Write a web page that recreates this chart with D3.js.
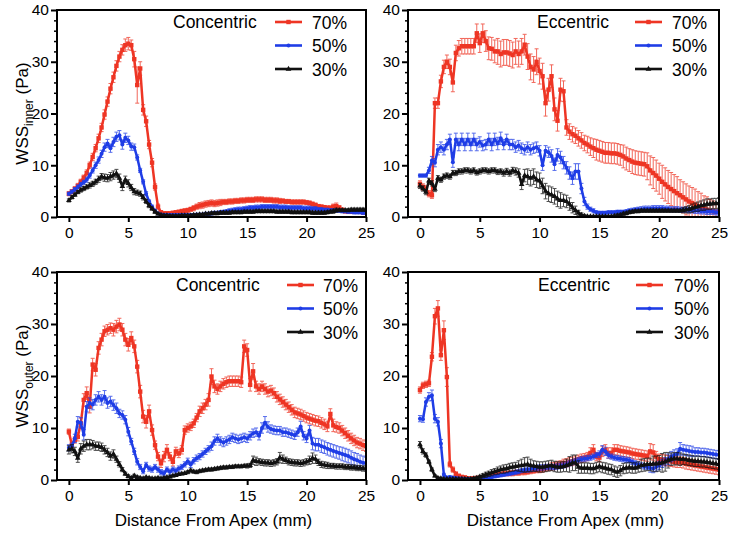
<!DOCTYPE html>
<html><head><meta charset="utf-8">
<script src="https://cdn.jsdelivr.net/npm/d3@7/dist/d3.min.js"></script>
<style>
html,body{margin:0;padding:0;background:#fff;}
svg{display:block;font-family:"Liberation Sans",Arial,Helvetica,sans-serif;}
</style></head>
<body>
<svg id="chart" width="734" height="537"></svg>
<script>
// ---------------- DATA ----------------
// sampling grid: distance from apex (mm), 0.25 mm steps
const distance = d3.range(101).map(i => i * 0.25);
const seriesNames = ["70%", "50%", "30%"];
const xTicks = [0, 5, 10, 15, 20, 25];
const yTicks = [0, 10, 20, 30, 40];
const panelTitles = ["Concentric", "Eccentric", "Concentric", "Eccentric"];
const yLabelSubs = ["inner", "outer"];
const xLabel = "Distance From Apex (mm)";

// WSS inner, concentric
const ci70 = [4.5,4.9,5.4,6.0, 6.8,7.6,8.5,10.0, 11.6,13.3,15.2,17.3, 19.8,22.3,24.8,27.0, 29.2,31.0,32.3,33.2,
  33.5,33.2,30.5,25.5, 28.7,20.7,18.5,14.0, 10.5,5.8,2.0,0.9, 0.7,0.7,0.7,0.8, 0.9,1.0,1.1,1.2,
  1.3,1.5,1.7,2.0, 2.2,2.3,2.5,2.6, 2.7,2.6,2.7,2.8, 2.9,2.9,3.0,3.0, 3.1,3.1,3.2,3.2,
  3.3,3.3,3.3,3.4, 3.4,3.4,3.3,3.3, 3.3,3.2,3.2,3.1, 3.1,3.0,3.0,2.9, 2.9,2.9,2.9,2.9,
  2.8,2.7,2.5,2.3, 2.1,2.0,1.9,1.8, 1.8,2.0,2.1,1.8, 1.4,1.1,1.0,1.0, 1.0,1.0,1.0,0.9, 0.9];
const ci70e = [0.4,0.4,0.5,0.5, 0.5,0.5,0.6,0.6, 0.7,0.7,0.8,0.8, 0.9,0.9,1.0,1.0, 1.0,1.0,1.0,1.2,
  1.2,1.0,1.5,3.5, 1.3,1.0,1.0,0.8, 0.8,0.6,0.5,0.3, 0.3,0.3,0.3,0.3, 0.3,0.3,0.4,0.4,
  0.4,0.4,0.5,0.5, 0.6,0.6,0.6,0.6, 0.6,0.6,0.6,0.6, 0.5,0.5,0.5,0.5, 0.5,0.5,0.5,0.5,
  0.5,0.5,0.5,0.5, 0.5,0.5,0.5,0.5, 0.5,0.5,0.5,0.5, 0.4,0.4,0.4,0.4, 0.4,0.4,0.4,0.4,
  0.4,0.4,0.4,0.4, 0.3,0.3,0.3,0.3, 0.3,0.5,0.6,0.4, 0.3,0.3,0.3,0.3, 0.3,0.3,0.3,0.3, 0.3];
const ci50 = [4.5,4.9,5.3,5.8, 6.3,6.7,7.2,8.0, 9.0,10.0,11.0,12.2, 13.5,14.2,13.3,14.5, 15.5,15.8,14.0,15.3,
  14.8,13.6,13.5,11.5, 9.0,6.8,4.5,3.0, 2.0,1.2,0.7,0.5, 0.4,0.4,0.4,0.4, 0.4,0.4,0.4,0.4,
  0.4,0.4,0.4,0.5, 0.5,0.5,0.6,0.6, 0.7,0.8,0.8,0.9, 1.0,1.1,1.2,1.3, 1.4,1.5,1.5,1.6,
  1.7,1.8,1.8,1.9, 1.9,2.0,2.0,2.0, 2.0,2.0,2.0,1.9, 1.9,1.9,1.8,1.8, 1.8,1.8,1.8,1.7,
  1.7,1.7,1.6,1.6, 1.5,1.5,1.4,1.4, 1.3,1.3,1.2,1.2, 1.1,1.1,1.0,1.0, 0.9,0.9,0.9,0.8, 0.8];
const ci50e = [0.3,0.3,0.4,0.4, 0.4,0.4,0.5,0.5, 0.5,0.6,0.6,0.7, 0.8,0.8,0.8,0.9, 0.9,0.9,0.9,0.9,
  0.8,0.7,0.6,0.5, 0.4,0.4,0.4,0.3, 0.3,0.3,0.2,0.2, 0.2,0.2,0.2,0.2, 0.2,0.2,0.2,0.2,
  0.2,0.2,0.2,0.2, 0.2,0.2,0.3,0.3, 0.3,0.3,0.3,0.3, 0.3,0.3,0.4,0.4, 0.4,0.4,0.4,0.4,
  0.4,0.4,0.4,0.4, 0.4,0.4,0.4,0.4, 0.4,0.4,0.4,0.4, 0.4,0.4,0.4,0.4, 0.4,0.4,0.4,0.4,
  0.4,0.4,0.4,0.4, 0.3,0.3,0.3,0.3, 0.3,0.3,0.3,0.3, 0.3,0.3,0.3,0.3, 0.3,0.3,0.3,0.3, 0.3];
const ci30 = [3.2,3.8,4.3,4.8, 5.2,5.5,5.8,6.1, 6.4,6.8,7.3,7.8, 7.6,7.5,7.8,8.1, 8.4,7.5,5.9,7.2,
  6.5,5.7,4.9,4.7, 4.5,3.8,3.0,2.2, 1.6,1.0,0.6,0.4, 0.3,0.3,0.2,0.2, 0.2,0.2,0.3,0.3,
  0.3,0.3,0.4,0.4, 0.5,0.5,0.6,0.6, 0.7,0.7,0.7,0.8, 0.8,0.8,0.8,0.9, 0.9,0.9,0.9,1.0,
  1.0,1.0,1.0,1.1, 1.1,1.1,1.1,1.1, 1.1,1.1,1.0,1.0, 1.0,1.0,1.0,0.9, 0.9,0.9,0.9,0.9,
  0.9,0.9,0.8,0.8, 0.8,0.8,0.8,0.9, 1.0,1.1,1.3,1.3, 1.3,1.3,1.3,1.4, 1.4,1.4,1.4,1.4, 1.4];
const ci30e = [0.3,0.3,0.3,0.3, 0.4,0.4,0.4,0.5, 0.5,0.5,0.6,0.6, 0.7,0.7,0.8,0.8, 0.8,0.8,0.8,0.7,
  0.7,0.6,0.6,0.5, 0.5,0.5,0.4,0.4, 0.3,0.3,0.2,0.2, 0.2,0.2,0.2,0.2, 0.2,0.2,0.2,0.2,
  0.2,0.2,0.2,0.2, 0.2,0.2,0.2,0.2, 0.3,0.3,0.3,0.3, 0.3,0.3,0.3,0.3, 0.3,0.3,0.3,0.3,
  0.3,0.3,0.3,0.3, 0.3,0.3,0.3,0.3, 0.3,0.3,0.3,0.3, 0.3,0.3,0.3,0.3, 0.3,0.3,0.3,0.3,
  0.3,0.3,0.3,0.3, 0.3,0.3,0.3,0.3, 0.3,0.4,0.4,0.3, 0.3,0.3,0.3,0.3, 0.3,0.3,0.3,0.3, 0.3];

// WSS inner, eccentric
const ei70 = [6.4,5.8,5.5,4.5, 4.2,22.0,22.0,26.2, 29.0,30.0,29.0,26.0, 31.7,32.6,33.0,33.0, 33.0,33.0,33.0,35.5,
  33.6,35.5,34.0,32.6, 32.5,32.0,32.0,31.5, 31.8,31.8,31.6,31.3, 32.0,31.5,32.0,33.3, 31.0,29.0,28.5,30.0,
  28.2,27.2,22.0,24.6, 27.2,20.8,18.6,24.6, 24.3,17.3,16.5,16.0, 15.7,15.2,14.8,14.3, 14.0,13.6,13.3,13.0,
  12.8,12.6,12.4,12.4, 12.3,12.3,12.2,12.0, 11.7,11.3,11.0,10.7, 10.5,10.4,10.3,10.2, 9.8,9.0,8.5,8.0,
  7.4,6.8,6.3,5.8, 5.4,5.0,4.6,4.2, 3.8,3.4,3.0,2.7, 2.4,2.1,1.8,1.6, 1.4,1.2,1.1,1.0, 1.0];
const ei70e = [0.6,0.6,0.6,0.6, 0.6,1.0,1.0,1.2, 1.3,1.3,1.5,1.8, 1.5,1.5,1.5,1.5, 1.5,1.5,1.5,1.8,
  1.8,1.8,2.0,2.2, 2.2,2.2,2.5,2.5, 2.5,2.5,2.5,2.5, 2.5,2.5,2.5,2.0, 2.5,2.5,2.5,2.5,
  2.5,2.5,2.5,2.2, 2.2,2.2,2.0,2.2, 2.0,1.5,1.5,1.5, 1.5,1.5,1.5,1.5, 1.6,1.7,1.8,2.0,
  2.0,2.0,2.0,2.0, 2.0,2.0,2.0,2.0, 2.2,2.2,2.2,2.3, 2.3,2.3,2.3,2.3, 2.6,2.8,3.0,3.0,
  3.0,3.2,3.2,3.2, 3.2,3.2,3.2,3.0, 3.0,3.0,3.0,3.0, 3.0,2.8,2.8,2.5, 2.5,2.2,2.0,1.8, 1.5];
const ei50 = [8.0,8.0,8.0,9.0, 10.9,10.5,13.0,13.5, 13.0,14.0,15.0,10.6, 15.0,14.0,15.0,14.0, 15.0,14.0,15.0,14.0,
  14.5,13.8,14.0,15.0, 14.0,15.0,14.2,15.2, 14.0,15.0,14.0,14.0, 13.5,13.8,13.3,13.0, 13.5,13.0,13.3,13.5,
  12.8,10.0,12.8,12.5, 11.8,10.2,12.0,11.5, 10.5,9.5,8.5,7.5, 8.8,8.8,5.5,3.0, 2.0,1.5,1.2,0.9,
  0.8,0.8,0.8,0.9, 0.9,0.9,1.0,1.0, 1.0,1.1,1.2,1.3, 1.4,1.5,1.5,1.6, 1.6,1.6,1.7,1.7,
  1.7,1.7,1.6,1.6, 1.5,1.5,1.5,1.4, 1.4,1.4,1.3,1.3, 1.2,1.2,1.1,1.1, 1.0,1.0,1.0,0.9, 0.9];
const ei50e = [0.3,0.3,0.3,0.6, 0.8,0.8,1.0,1.0, 1.0,1.0,1.0,1.0, 1.2,1.2,1.2,1.2, 1.2,1.2,1.2,1.2,
  1.0,1.0,1.0,1.2, 1.2,1.2,1.2,1.2, 1.0,1.0,1.0,1.0, 1.0,1.0,1.0,1.0, 1.0,1.0,1.0,1.0,
  1.0,1.0,1.0,1.0, 1.2,1.2,1.2,1.2, 1.2,1.2,1.2,1.2, 1.5,1.5,1.0,0.8, 0.5,0.4,0.4,0.3,
  0.3,0.3,0.3,0.3, 0.3,0.3,0.3,0.3, 0.3,0.3,0.4,0.4, 0.4,0.4,0.5,0.5, 0.5,0.5,0.5,0.5,
  0.5,0.5,0.5,0.5, 0.5,0.5,0.5,0.5, 0.5,0.5,0.5,0.5, 0.5,0.5,0.5,0.5, 0.5,0.5,0.5,0.5, 0.5];
const ei30 = [6.0,5.5,4.8,7.0, 6.5,5.4,7.5,7.2, 7.8,8.0,7.8,8.5, 8.5,8.8,8.8,9.0, 9.0,8.8,9.0,8.6,
  8.8,9.0,9.0,8.8, 9.0,9.0,8.7,8.8, 8.5,8.8,8.5,9.0, 8.8,8.5,6.3,8.0, 7.8,7.5,7.8,7.2,
  7.0,6.0,5.0,4.5, 4.3,4.0,3.5,3.2, 3.2,3.0,2.5,1.8, 1.3,0.8,0.4,0.2, 0.1,0.1,0.1,0.1,
  0.1,0.1,0.1,0.1, 0.1,0.2,0.3,0.4, 0.6,0.7,0.9,1.0, 1.1,1.1,1.2,1.2, 1.2,1.2,1.2,1.2,
  1.2,1.2,1.2,1.2, 1.2,1.2,1.2,1.2, 1.3,1.4,1.5,1.7, 1.9,2.0,2.2,2.3, 2.5,2.5,2.6,2.6, 2.7];
const ei30e = [0.5,0.5,0.5,0.5, 0.5,0.5,0.5,0.5, 0.5,0.5,0.5,0.5, 0.5,0.5,0.5,0.5, 0.5,0.5,0.5,0.5,
  0.5,0.5,0.5,0.5, 0.5,0.5,0.5,0.5, 0.6,0.6,0.6,0.6, 0.7,0.8,1.0,1.2, 1.5,1.5,1.5,1.5,
  1.5,1.5,1.5,1.5, 1.5,1.5,1.5,1.5, 1.2,1.2,1.2,1.0, 0.8,0.5,0.4,0.3, 0.2,0.2,0.2,0.2,
  0.2,0.2,0.2,0.2, 0.2,0.2,0.3,0.3, 0.3,0.3,0.3,0.3, 0.3,0.3,0.3,0.3, 0.3,0.3,0.3,0.3,
  0.3,0.3,0.3,0.3, 0.3,0.3,0.3,0.3, 0.5,0.6,0.7,0.8, 0.8,0.9,0.9,1.0, 1.0,1.0,1.0,1.0, 1.0];

// WSS outer, concentric
const co70 = [9.3,6.7,7.7,8.3, 10.9,15.4,16.7,14.1, 22.2,21.2,25.4,27.0, 28.6,28.9,29.2,28.9, 29.5,29.9,28.9,27.0,
  26.0,27.3,25.7,21.8, 17.0,12.2,11.2,13.2, 9.6,6.7,4.5,3.2, 4.5,5.8,4.5,3.5, 5.5,5.1,5.8,9.6,
  10.0,10.3,10.9,12.0, 13.2,13.8,14.5,15.4, 19.9,18.0,17.5,18.0, 18.5,18.8,19.0,19.0, 19.0,19.0,18.8,25.7,
  25.0,18.3,20.9,18.0, 17.5,18.0,17.5,17.0, 17.2,16.7,16.0,15.5, 15.0,14.5,14.0,13.5, 13.0,12.8,12.6,12.3,
  12.0,11.8,11.6,11.4, 11.3,11.0,10.7,10.3, 12.7,10.5,10.2,10.0, 9.5,9.0,8.5,8.0, 7.6,7.2,7.0,6.7, 6.5];
const co70e = [0.5,0.5,0.6,0.8, 1.0,1.2,1.2,1.2, 1.2,1.2,1.2,1.2, 1.0,1.0,1.0,1.2, 1.2,1.2,1.2,1.2,
  1.2,1.2,1.2,1.2, 1.2,1.2,1.2,1.2, 1.0,0.8,0.8,0.8, 1.0,1.0,0.8,0.8, 0.8,0.8,0.8,0.8,
  0.8,0.8,0.8,0.8, 1.0,1.0,1.0,1.2, 1.5,1.2,1.0,1.0, 1.0,1.0,1.0,1.0, 1.0,1.0,1.0,1.2,
  1.2,1.2,1.5,1.0, 1.0,1.0,1.0,1.0, 1.0,1.0,1.0,1.0, 1.0,1.0,1.0,1.0, 1.0,1.0,1.0,1.0,
  1.0,1.0,1.0,1.0, 1.0,1.0,1.0,1.0, 1.0,1.2,1.0,1.0, 1.0,1.0,1.0,1.0, 1.0,1.0,1.0,1.0, 1.0];
const co50 = [6.2,6.5,8.0,11.2, 11.0,8.7,14.1,14.8, 14.5,15.4,16.0,15.4, 16.0,14.8,15.1,14.4, 13.8,12.8,12.5,11.6,
  9.3,7.4,5.5,3.5, 2.5,1.7,2.9,2.2, 2.0,2.5,2.0,1.5, 1.3,2.0,1.6,2.0, 1.8,2.2,2.5,3.0,
  3.6,3.0,3.7,4.2, 4.5,5.0,5.5,6.0, 6.5,7.5,8.0,7.5, 7.2,7.5,7.8,8.2, 8.0,7.8,8.0,8.2,
  8.0,8.5,9.0,9.2, 8.5,10.0,11.0,10.2, 9.8,9.6,9.5,9.5, 9.2,9.2,9.0,8.8, 8.6,9.2,10.3,8.5,
  8.0,9.5,7.0,6.8, 6.8,6.5,6.3,6.0, 5.8,5.6,5.4,5.2, 5.0,4.8,4.6,4.3, 4.0,3.8,3.5,3.3, 3.2];
const co50e = [0.6,0.6,0.8,1.0, 1.0,1.0,1.0,1.0, 1.0,1.0,1.0,1.0, 1.2,1.0,1.0,1.0, 1.0,0.8,0.8,0.8,
  0.8,0.6,0.6,0.6, 0.5,0.5,0.5,0.5, 0.5,0.5,0.5,0.5, 0.5,0.5,0.5,0.5, 0.5,0.5,0.5,0.5,
  0.6,0.6,0.6,0.6, 0.6,0.6,0.6,0.6, 0.8,0.8,0.8,0.8, 0.8,0.8,0.8,0.8, 0.8,0.8,0.8,0.8,
  0.8,0.8,0.8,0.8, 0.8,1.0,1.2,1.0, 0.8,0.8,0.8,0.8, 0.8,0.8,0.8,0.8, 0.8,0.8,1.0,0.8,
  0.8,1.0,1.2,1.2, 1.2,1.2,1.2,1.2, 1.2,1.2,1.2,1.2, 1.3,1.3,1.3,1.3, 1.3,1.3,1.3,1.3, 1.2];
const co30 = [5.8,6.0,5.5,4.2, 6.0,6.5,6.8,6.8, 6.8,6.5,6.5,6.3, 5.8,5.3,4.6,5.0, 4.0,3.0,2.0,1.2,
  0.7,0.4,0.8,0.5, 0.4,0.3,0.5,0.4, 0.3,0.3,0.4,0.3, 0.4,0.5,0.6,0.8, 0.9,1.1,1.2,1.3,
  1.5,1.8,1.6,1.5, 1.7,1.8,1.9,2.0, 2.0,2.1,2.2,2.3, 2.4,2.4,2.5,2.5, 2.6,2.6,2.6,2.7,
  2.7,2.8,3.8,3.6, 3.5,3.4,3.3,3.3, 3.2,3.3,3.5,4.3, 4.0,3.8,3.5,3.4, 3.3,3.3,3.2,3.3,
  3.5,3.8,4.2,4.0, 3.4,3.0,2.9,2.8, 2.7,2.7,2.6,2.6, 2.6,2.5,2.5,2.4, 2.4,2.3,2.3,2.2, 2.2];
const co30e = [0.8,0.8,0.8,0.8, 1.0,1.0,1.0,1.0, 0.8,0.8,0.8,0.8, 0.8,0.8,0.8,0.8, 0.6,0.5,0.4,0.3,
  0.3,0.3,0.3,0.3, 0.2,0.2,0.2,0.2, 0.2,0.2,0.2,0.2, 0.2,0.2,0.2,0.2, 0.2,0.2,0.2,0.2,
  0.3,0.3,0.3,0.3, 0.3,0.3,0.3,0.3, 0.3,0.3,0.3,0.3, 0.3,0.3,0.3,0.3, 0.3,0.3,0.3,0.3,
  0.4,0.4,0.8,0.8, 0.6,0.6,0.6,0.6, 0.6,0.6,0.6,1.0, 0.8,0.6,0.6,0.6, 0.6,0.6,0.6,0.6,
  0.6,0.8,1.0,0.8, 0.6,0.6,0.6,0.6, 0.5,0.5,0.5,0.5, 0.5,0.5,0.5,0.5, 0.5,0.5,0.5,0.5, 0.5];

// WSS outer, eccentric
const eo70 = [17.3,18.2,18.4,18.6, 23.7,31.5,33.0,24.0, 28.8,19.8,3.0,2.0, 1.2,0.8,0.6,0.5, 0.3,0.3,0.3,0.4,
  0.4,0.5,0.6,0.7, 0.8,0.9,1.0,1.1, 1.2,1.2,1.3,1.3, 1.4,1.4,1.5,1.5, 1.6,1.7,1.8,1.9,
  2.0,2.1,2.3,2.4, 2.6,2.7,2.9,3.0, 3.2,3.3,3.5,3.6, 3.8,4.0,4.2,4.3, 4.5,5.2,5.8,4.5,
  4.3,5.5,5.8,5.2, 5.2,5.8,5.8,5.6, 5.5,5.4,5.3,5.1, 5.0,4.9,4.8,4.7, 4.6,5.5,5.3,4.5,
  4.0,3.9,3.8,3.7, 3.6,3.5,3.4,3.4, 3.3,3.1,3.0,2.9, 2.8,2.7,2.6,2.5, 2.4,2.3,2.2,2.1, 2.0];
const eo70e = [0.6,0.6,0.6,0.6, 0.8,1.5,1.5,1.0, 1.8,1.8,0.5,0.5, 0.3,0.3,0.2,0.2, 0.2,0.2,0.2,0.2,
  0.2,0.3,0.3,0.3, 0.3,0.3,0.4,0.4, 0.4,0.4,0.5,0.5, 0.5,0.5,0.5,0.5, 0.5,0.5,0.5,0.5,
  0.6,0.6,0.6,0.6, 0.7,0.7,0.7,0.7, 0.8,0.8,0.8,0.8, 0.8,0.8,0.8,0.8, 0.8,1.0,1.0,0.8,
  0.8,1.0,1.0,1.0, 1.0,1.0,1.0,1.0, 1.0,1.0,1.0,1.0, 1.0,1.0,1.0,1.0, 1.0,1.5,1.5,1.0,
  1.0,1.0,1.0,1.0, 1.0,1.0,1.0,1.0, 1.0,1.0,1.0,1.0, 1.0,1.0,1.0,1.0, 1.0,1.0,1.0,1.0, 1.0];
const eo50 = [11.8,11.7,15.0,16.0, 16.3,11.8,11.2,7.0, 1.0,0.5,0.6,0.5, 0.4,0.3,0.3,0.2, 0.2,0.2,0.2,0.2,
  0.3,0.3,0.4,0.5, 0.6,0.7,0.8,0.9, 1.0,1.1,1.2,1.3, 1.5,1.6,1.8,1.9, 2.0,2.1,2.2,2.3,
  2.4,2.4,2.5,2.5, 2.5,2.5,2.6,2.7, 2.8,3.0,3.2,3.4, 3.6,3.8,4.0,4.1, 4.2,4.3,4.5,4.8,
  5.0,5.8,5.5,4.8, 4.5,4.3,4.2,4.1, 4.0,3.9,3.8,3.5, 3.2,3.0,2.8,2.6, 2.5,2.3,2.2,2.5,
  2.8,3.2,3.5,4.0, 4.5,4.8,5.0,6.0, 5.8,5.7,5.6,5.5, 5.4,5.4,5.3,5.3, 5.2,5.1,5.0,4.9, 4.8];
const eo50e = [0.6,0.6,0.8,0.8, 1.0,0.8,0.8,0.8, 0.3,0.2,0.2,0.2, 0.2,0.2,0.2,0.2, 0.2,0.2,0.2,0.2,
  0.2,0.2,0.2,0.2, 0.3,0.3,0.3,0.3, 0.3,0.3,0.3,0.3, 0.4,0.4,0.4,0.4, 0.5,0.5,0.5,0.5,
  0.5,0.5,0.5,0.5, 0.5,0.5,0.5,0.5, 0.5,0.5,0.5,0.5, 0.5,0.5,0.5,0.5, 0.5,0.5,0.5,0.5,
  0.6,0.8,0.8,0.6, 0.5,0.5,0.5,0.5, 0.5,0.5,0.5,0.5, 0.5,0.5,0.5,0.5, 0.5,0.8,0.8,0.8,
  0.8,0.8,0.8,1.0, 1.0,1.0,1.0,1.2, 1.0,1.0,1.0,1.0, 0.8,0.8,0.8,0.8, 0.8,0.8,0.8,0.8, 0.8];
const eo30 = [6.8,5.5,4.8,3.5, 2.0,0.8,0.4,0.3, 0.2,0.2,0.2,0.2, 0.2,0.2,0.2,0.2, 0.2,0.2,0.3,0.4,
  0.6,0.8,1.0,1.2, 1.4,1.6,1.8,2.0, 2.1,2.2,2.4,2.5, 2.6,2.7,2.8,2.9, 3.0,2.8,2.7,2.6,
  2.5,2.5,2.6,2.7, 2.8,2.6,2.5,2.5, 2.6,2.8,3.0,3.3, 3.3,2.5,2.3,2.3, 2.3,2.2,2.2,2.4,
  2.6,2.4,2.3,2.1, 2.0,1.7,1.5,1.8, 2.2,2.3,2.4,2.3, 2.3,2.5,2.8,2.9, 3.0,3.0,3.1,3.1,
  3.2,3.3,3.5,3.8, 4.0,4.1,4.1,4.0, 4.0,3.9,3.8,3.7, 3.6,3.6,3.5,3.5, 3.4,3.3,3.2,3.1, 3.0];
const eo30e = [0.6,0.5,0.4,0.3, 0.3,0.2,0.2,0.2, 0.1,0.1,0.1,0.1, 0.1,0.1,0.1,0.1, 0.1,0.1,0.2,0.3,
  0.3,0.4,0.5,0.5, 0.6,0.6,0.7,0.7, 0.8,0.8,0.8,0.8, 0.8,1.0,1.2,1.4, 1.4,1.2,1.0,1.0,
  1.0,1.0,1.0,1.0, 1.0,1.0,1.0,1.0, 1.0,1.2,1.5,1.5, 1.5,1.2,1.0,1.0, 1.0,1.0,1.0,1.0,
  1.0,1.0,1.0,1.0, 1.0,1.0,1.0,1.0, 1.0,1.0,1.0,1.0, 1.0,1.0,1.2,1.2, 1.2,1.2,1.5,1.5,
  1.5,1.8,1.8,1.5, 1.2,1.2,1.2,1.2, 1.0,1.0,1.0,1.0, 1.0,1.0,1.0,1.0, 1.0,1.0,1.0,1.0, 1.0];

// ---------------- STYLE / LAYOUT ----------------
const colors = ["#EE3524", "#1F3DE6", "#111111"];
const markerTypes = ["square", "circle", "triangle"];
const FONT = '"Liberation Sans", Arial, Helvetica, sans-serif';

const panels = [
  {left:57, right:366, top:10, bottom:217, title:panelTitles[0], ylab:yLabelSubs[0], xlab:false,
   data:[[ci70,ci70e],[ci50,ci50e],[ci30,ci30e]], leg:{tx:173, lx0:275, lx1:302, nx:312, y0:22}},
  {left:408, right:719, top:10, bottom:217, title:panelTitles[1], ylab:null, xlab:false,
   data:[[ei70,ei70e],[ei50,ei50e],[ei30,ei30e]], leg:{tx:537, lx0:635, lx1:662, nx:672, y0:22}},
  {left:57, right:366, top:272, bottom:480, title:panelTitles[2], ylab:yLabelSubs[1], xlab:true,
   data:[[co70,co70e],[co50,co50e],[co30,co30e]], leg:{tx:176, lx0:287, lx1:314, nx:323, y0:285}},
  {left:408, right:719, top:272, bottom:480, title:panelTitles[3], ylab:null, xlab:true,
   data:[[eo70,eo70e],[eo50,eo50e],[eo30,eo30e]], leg:{tx:538, lx0:636, lx1:663, nx:674, y0:285}}
];

const svg = d3.select("#chart");

function drawMarker(g, type, cx, cy, color) {
  if (type === "square") {
    g.append("rect").attr("x", cx - 2.2).attr("y", cy - 2.2).attr("width", 4.4).attr("height", 4.4).attr("fill", color);
  } else if (type === "circle") {
    g.append("circle").attr("cx", cx).attr("cy", cy).attr("r", 2).attr("fill", color);
  } else {
    g.append("path").attr("d", d3.symbol(d3.symbolTriangle, 14)()).attr("transform", `translate(${cx},${cy})`).attr("fill", color);
  }
}

panels.forEach((p, pi) => {
  const x = d3.scaleLinear().domain([-1, 25]).range([p.left, p.right]);
  const y = d3.scaleLinear().domain([0, 40]).range([p.bottom, p.top]);
  const g = svg.append("g");

  const clipId = "clip" + pi;
  svg.append("clipPath").attr("id", clipId).append("rect")
    .attr("x", p.left).attr("y", p.top).attr("width", p.right - p.left).attr("height", p.bottom - p.top);
  const dg = g.append("g").attr("clip-path", `url(#${clipId})`);

  p.data.forEach(([vals, errs], si) => {
    const col = colors[si];
    const sg = dg.append("g");
    const eg = sg.append("g").attr("stroke", col).attr("stroke-width", 1).attr("opacity", 0.75);
    distance.forEach((d, i) => {
      const v = vals[i], e = errs[i];
      if (v == null || e == null) return;
      const cx = x(d), y1 = y(v + e), y2 = y(v - e);
      eg.append("line").attr("x1", cx).attr("x2", cx).attr("y1", y1).attr("y2", y2);
      eg.append("line").attr("x1", cx - 2).attr("x2", cx + 2).attr("y1", y1).attr("y2", y1);
      eg.append("line").attr("x1", cx - 2).attr("x2", cx + 2).attr("y1", y2).attr("y2", y2);
    });
    const line = d3.line().defined((d, i) => vals[i] != null).x(d => x(d)).y((d, i) => y(vals[i]));
    sg.append("path").datum(distance).attr("d", line)
      .attr("fill", "none").attr("stroke", col).attr("stroke-width", 2.5).attr("stroke-linejoin", "round");
    const mg = sg.append("g");
    distance.forEach((d, i) => {
      if (vals[i] == null) return;
      drawMarker(mg, markerTypes[si], x(d), y(vals[i]), col);
    });
  });

  g.append("rect").attr("x", p.left).attr("y", p.top).attr("width", p.right - p.left).attr("height", p.bottom - p.top)
    .attr("fill", "none").attr("stroke", "#000").attr("stroke-width", 2);

  const ya = g.append("g").attr("transform", `translate(${p.left},0)`)
    .call(d3.axisLeft(y).tickValues(yTicks).tickSize(6).tickPadding(2).tickFormat(d3.format("d")));
  ya.select(".domain").remove();
  ya.selectAll(".tick line").attr("stroke-width", 2);
  ya.selectAll("text").attr("font-size", 15.5).attr("font-family", FONT).attr("fill", "#000");
  const minor = d3.range(0, 41, 2).filter(v => v % 10 !== 0);
  const ym = g.append("g").attr("transform", `translate(${p.left},0)`)
    .call(d3.axisLeft(y).tickValues(minor).tickSize(3).tickFormat(""));
  ym.select(".domain").remove();
  ym.selectAll(".tick line").attr("stroke-width", 1.5);

  const xa = g.append("g").attr("transform", `translate(0,${p.bottom})`)
    .call(d3.axisBottom(x).tickValues(xTicks).tickSize(5).tickPadding(5).tickFormat(d3.format("d")));
  xa.select(".domain").remove();
  xa.selectAll(".tick line").attr("stroke-width", 2);
  xa.selectAll("text").attr("font-size", 15.5).attr("font-family", FONT).attr("fill", "#000");

  if (p.xlab) {
    g.append("text").attr("x", (p.left + p.right) / 2 + 2).attr("y", p.bottom + 46)
      .attr("text-anchor", "middle").attr("font-size", 17).attr("font-family", FONT).text(xLabel);
  }
  if (p.ylab) {
    const cy = (p.top + p.bottom) / 2;
    const t = g.append("text").attr("transform", `translate(28,${cy}) rotate(-90)`)
      .attr("text-anchor", "middle").attr("font-size", 17).attr("font-family", FONT);
    t.append("tspan").text("WSS");
    t.append("tspan").attr("font-size", 12).attr("dy", 5).text(p.ylab);
    t.append("tspan").attr("dy", -5).text(" (Pa)");
  }

  const L = p.leg;
  g.append("text").attr("x", L.tx).attr("y", L.y0 + 6).attr("font-size", 17.5).attr("font-family", FONT).text(p.title);
  seriesNames.forEach((nm, si) => {
    const ly = L.y0 + si * 23.5;
    g.append("line").attr("x1", L.lx0).attr("x2", L.lx1).attr("y1", ly).attr("y2", ly)
      .attr("stroke", colors[si]).attr("stroke-width", 2.6);
    drawMarker(g, markerTypes[si], (L.lx0 + L.lx1) / 2, ly, colors[si]);
    g.append("text").attr("x", L.nx).attr("y", ly + 6.5).attr("font-size", 17.5).attr("font-family", FONT).text(nm);
  });
});
</script>
</body></html>
